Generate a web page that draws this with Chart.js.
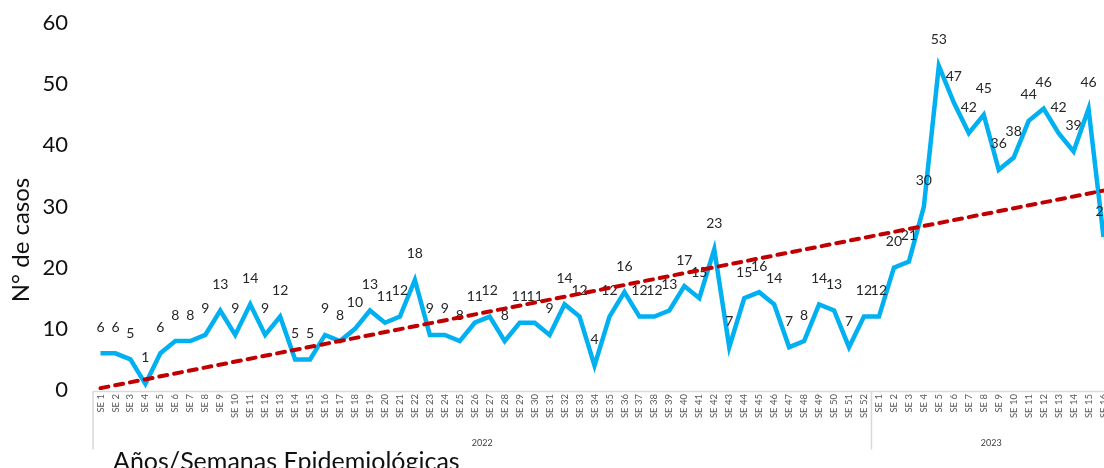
<!DOCTYPE html>
<html>
<head>
<meta charset="utf-8">
<script src="https://cdn.jsdelivr.net/npm/chart.js@4.4.1/dist/chart.umd.min.js"></script>
<style>
  html, body { margin: 0; padding: 0; background: #fff; overflow: hidden; }
  #wrap { position: relative; width: 1111px; height: 468px; }
</style>
</head>
<body>
<div id="wrap"><canvas id="c"></canvas></div>
<script>
// Epidemiological weeks, grouped by year
const weeks2022 = ['SE 1','SE 2','SE 3','SE 4','SE 5','SE 6','SE 7','SE 8','SE 9','SE 10',
  'SE 11','SE 12','SE 13','SE 14','SE 15','SE 16','SE 17','SE 18','SE 19','SE 20',
  'SE 21','SE 22','SE 23','SE 24','SE 25','SE 26','SE 27','SE 28','SE 29','SE 30',
  'SE 31','SE 32','SE 33','SE 34','SE 35','SE 36','SE 37','SE 38','SE 39','SE 40',
  'SE 41','SE 42','SE 43','SE 44','SE 45','SE 46','SE 47','SE 48','SE 49','SE 50',
  'SE 51','SE 52'];
const weeks2023 = ['SE 1','SE 2','SE 3','SE 4','SE 5','SE 6','SE 7','SE 8','SE 9','SE 10',
  'SE 11','SE 12','SE 13','SE 14','SE 15','SE 16'];
const years = ['2022', '2023'];

// Weekly case counts
const cases2022 = [6,6,5,1,6,8,8,9,13,9,14,9,12,5,5,9,8,10,13,11,12,18,9,9,8,11,12,8,11,11,
  9,14,12,4,12,16,12,12,13,17,15,23,7,15,16,14,7,8,14,13,7,12];
const cases2023 = [12,20,21,30,53,47,42,45,36,38,44,46,42,39,46,25];

// Linear trend: value at the first and at the last week
const trendStart = 0.3;
const trendEnd = 32.6;

// Y axis ticks
const yTicks = [0, 10, 20, 30, 40, 50, 60];

const yTitle = 'N° de casos';
const xTitle = 'Años/Semanas Epidemiológicas';

const labels = weeks2022.concat(weeks2023);
const cases = cases2022.concat(cases2023);
const trend = labels.map((_, i) => i === 0 ? trendStart : (i === labels.length - 1 ? trendEnd : null));

Chart.defaults.font.family = 'Lato, "Open Sans", sans-serif';

const decor = {
  id: 'decor',
  afterDatasetDraw(chart, args) {
    if (args.index !== 0) return;
    const ctx = chart.ctx;
    const meta = chart.getDatasetMeta(0);
    ctx.save();
    ctx.font = '14px Lato';
    ctx.fillStyle = '#262626';
    ctx.textAlign = 'center';
    ctx.textBaseline = 'middle';
    meta.data.forEach((pt, i) => {
      ctx.fillText(String(cases[i]), pt.x, pt.y - 26);
    });
    ctx.restore();
  },
  afterDraw(chart) {
    const ctx = chart.ctx;
    const x = chart.scales.x;
    const base = chart.chartArea.bottom + 1.5;
    const sep = (x.getPixelForValue(weeks2022.length - 1) + x.getPixelForValue(weeks2022.length)) / 2;
    ctx.save();
    ctx.strokeStyle = '#d9d9d9';
    ctx.lineWidth = 1.5;
    ctx.beginPath();
    ctx.moveTo(x.left, base);
    ctx.lineTo(x.right, base);
    [x.left, sep].forEach(px => {
      ctx.moveTo(px, base);
      ctx.lineTo(px, base + 58);
    });
    ctx.stroke();

    ctx.fillStyle = '#404040';
    ctx.font = '9px Lato';
    ctx.textAlign = 'center';
    ctx.textBaseline = 'middle';
    ctx.fillText(years[0], (x.left + sep) / 2, 443);
    ctx.fillText(years[1], (sep + x.right) / 2, 443);

    ctx.fillStyle = '#111';
    ctx.font = '25px Lato';
    ctx.textAlign = 'left';
    ctx.textBaseline = 'alphabetic';
    ctx.fillText(xTitle, 113, 470);

    ctx.translate(21, 240);
    ctx.rotate(-Math.PI / 2);
    ctx.textAlign = 'center';
    ctx.textBaseline = 'middle';
    ctx.font = '24px Lato';
    ctx.fillText(yTitle, 0, 0);
    ctx.restore();
  }
};

new Chart(document.getElementById('c'), {
  type: 'line',
  data: {
    labels: labels,
    datasets: [
      {
        label: 'Casos',
        data: cases,
        borderColor: '#00B0F0',
        borderWidth: 4.5,
        pointRadius: 0,
        tension: 0,
        order: 1
      },
      {
        label: 'Tendencia',
        data: trend,
        borderColor: '#C00000',
        borderWidth: 4,
        borderDash: [8, 7],
        borderCapStyle: 'round',
        pointRadius: 0,
        spanGaps: true,
        order: 0
      }
    ]
  },
  options: {
    responsive: true,
    maintainAspectRatio: false,
    animation: false,
    layout: { padding: { top: 23, left: 0, right: 0, bottom: 0 } },
    plugins: { legend: { display: false }, tooltip: { enabled: false } },
    scales: {
      x: {
        offset: true,
        grid: { display: false, drawTicks: false },
        border: { display: false },
        ticks: {
          autoSkip: false,
          minRotation: 90,
          maxRotation: 90,
          padding: 4,
          color: '#595959',
          font: { size: 9.5 }
        },
        afterFit(scale) {
          scale.height = 78;
          scale.paddingLeft = 0;
          scale.paddingRight = 0;
        }
      },
      y: {
        min: 0,
        max: 60,
        grid: { display: false, drawTicks: false },
        border: { display: false },
        afterBuildTicks(scale) {
          scale.ticks = yTicks.map(v => ({ value: v }));
        },
        ticks: {
          padding: 25,
          color: '#111',
          font: { size: 22 }
        },
        afterFit(scale) {
          scale.width = 93;
          scale.paddingTop = 0;
          scale.paddingBottom = 0;
        }
      }
    }
  },
  plugins: [decor]
});
</script>
</body>
</html>
